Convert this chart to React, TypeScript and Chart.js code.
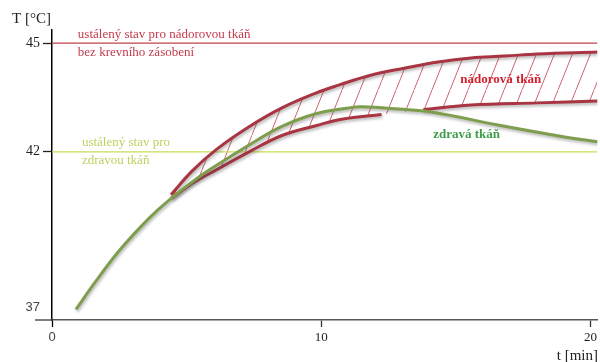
import React, { useEffect, useRef } from 'react';
import { Chart, registerables, LinearScale } from 'chart.js';

Chart.register(...registerables);

// ---- data ----
const timeHealthy = [0.89, 1.59, 2.51, 3.62, 4.36, 5.47, 6.47, 7.32, 8.54, 9.8, 11.02, 11.5, 12.87, 14.09, 16.56, 19.04, 20.26];
const tempHealthy = [36.94, 37.8, 38.84, 39.88, 40.46, 41.2, 41.76, 42.19, 42.7, 43.05, 43.21, 43.24, 43.18, 43.1, 42.74, 42.41, 42.28];

const timeTumorUpper = [4.42, 5.2, 6.1, 7.32, 8.54, 9.8, 10.65, 11.87, 13.12, 14.34, 15.56, 16.82, 18.04, 20.26];
const tempTumorUpper = [40.62, 41.38, 42.06, 42.69, 43.21, 43.62, 43.84, 44.12, 44.31, 44.48, 44.59, 44.64, 44.7, 44.75];

const timeTumorLower = [4.42, 5.2, 6.1, 7.32, 8.54, 9.8, 10.76, 12.24, 13.79, 15.56, 18.04, 20.26];
const tempTumorLower = [40.5, 40.98, 41.42, 42.0, 42.45, 42.72, 42.9, 43.03, 43.16, 43.29, 43.35, 43.4];
const tumorLowerHiddenSegment = 7; // segment starting at this index is not drawn

const steadyTumor = 45;
const steadyHealthy = 42;

const xTicks = [0, 10, 20];
const yTicks = [37, 42, 45];
const xMin = 0;
const xMax = 20.26;
const yMin = 36.6;
const yMax = 45.36;

const axisTitleY = 'T [°C]';
const axisTitleX = 't [min]';

const notes = [
  { text: 'ustálený stav pro nádorovou tkáň', t: 0.96, v: 45.22, color: '#c23a4c', bold: false },
  { text: 'bez krevního zásobení', t: 0.96, v: 44.75, color: '#c23a4c', bold: false },
  { text: 'ustálený stav pro', t: 1.11, v: 42.25, color: '#b9d35e', bold: false },
  { text: 'zdravou tkáň', t: 1.11, v: 41.71, color: '#b9d35e', bold: false },
  { text: 'nádorová tkáň', t: 15.16, v: 43.98, color: '#d0202e', bold: true },
  { text: 'zdravá tkáň', t: 14.16, v: 42.47, color: '#3e9c4a', bold: true },
];

// ---- warped linear scale: the 37–42 band is drawn slightly compressed ----
const WARP_AT = 42;
const WARP_FACTOR = 0.859;
const warp = (v: number) => (v >= WARP_AT ? v : WARP_AT - (WARP_AT - v) * WARP_FACTOR);
const unwarp = (u: number) => (u >= WARP_AT ? u : WARP_AT - (WARP_AT - u) / WARP_FACTOR);

class WarpedScale extends LinearScale {
  static id = 'warped';
  static defaults = LinearScale.defaults;
  getPixelForValue(value: number) {
    const a = warp(this.min);
    const b = warp(this.max);
    return this.getPixelForDecimal((warp(value) - a) / (b - a));
  }
  getValueForPixel(pixel: number) {
    const a = warp(this.min);
    const b = warp(this.max);
    return unwarp(a + this.getDecimalForPixel(pixel) * (b - a));
  }
}
Chart.register(WarpedScale as any);

const SERIF = '"Liberation Serif", "DejaVu Serif", serif';
const SANS = '"Liberation Sans", Arial, sans-serif';

const RED = '#a83541';
const GREEN = '#7e9e4e';

export default function App() {
  const ref = useRef<HTMLCanvasElement | null>(null);

  useEffect(() => {
    const canvas = ref.current;
    if (!canvas) return;

    const pc = document.createElement('canvas');
    pc.width = 18;
    pc.height = 45;
    const p = pc.getContext('2d')!;
    p.strokeStyle = 'rgba(192,64,80,0.9)';
    p.lineWidth = 0.9;
    p.beginPath();
    p.moveTo(-18, 90);
    p.lineTo(36, -45);
    p.stroke();
    const hatch = p.createPattern(pc, 'repeat')!;

    const toXY = (xs: number[], ys: number[]) => xs.map((x, i) => ({ x, y: ys[i] }));

    const decorPlugin = {
      id: 'decor',
      beforeDatasetDraw(chart: any, args: any) {
        if (args.index <= 2) {
          const c = chart.ctx;
          c.save();
          c.shadowColor = 'rgba(70,70,70,0.4)';
          c.shadowBlur = 3;
          c.shadowOffsetX = 1;
          c.shadowOffsetY = 2;
        }
      },
      afterDatasetDraw(chart: any, args: any) {
        if (args.index <= 2) chart.ctx.restore();
      },
      afterDraw(chart: any) {
        const c = chart.ctx;
        const xs = chart.scales.x;
        const ys = chart.scales.y;
        const area = chart.chartArea;
        c.save();
        c.strokeStyle = '#555';
        c.lineWidth = 1.5;
        c.beginPath();
        c.moveTo(area.left - 17, area.bottom);
        c.lineTo(area.left, area.bottom);
        c.stroke();
        c.textBaseline = 'middle';
        c.textAlign = 'left';
        for (const n of notes) {
          c.font = `${n.bold ? 'bold ' : ''}13px ${SERIF}`;
          c.fillStyle = n.color;
          c.fillText(n.text, xs.getPixelForValue(n.t), ys.getPixelForValue(n.v));
        }
        c.fillStyle = '#222';
        c.font = `15px ${SERIF}`;
        c.fillText(axisTitleY, 12, 19);
        c.textAlign = 'right';
        c.fillText(axisTitleX, 598, 356);
        c.restore();
      },
    };

    const curve = { borderWidth: 3, tension: 0.4, pointRadius: 0 };

    const chart = new Chart(canvas, {
      type: 'line',
      data: {
        datasets: [
          {
            label: 'zdravá tkáň',
            data: toXY(timeHealthy, tempHealthy),
            borderColor: GREEN,
            ...curve,
            fill: false,
          },
          {
            label: 'nádorová tkáň (horní)',
            data: toXY(timeTumorUpper, tempTumorUpper),
            borderColor: RED,
            ...curve,
            fill: { target: 2 },
            backgroundColor: hatch,
          },
          {
            label: 'nádorová tkáň (dolní)',
            data: toXY(timeTumorLower, tempTumorLower),
            borderColor: RED,
            ...curve,
            fill: false,
            segment: {
              borderColor: (ctx: any) => (ctx.p0DataIndex === tumorLowerHiddenSegment ? 'rgba(0,0,0,0)' : RED),
            },
          },
          {
            label: 'ustálený stav – nádor',
            data: [{ x: xMin, y: steadyTumor }, { x: xMax, y: steadyTumor }],
            borderColor: '#c0404f',
            borderWidth: 1.2,
            pointRadius: 0,
            fill: false,
          },
          {
            label: 'ustálený stav – zdravá',
            data: [{ x: xMin, y: steadyHealthy }, { x: xMax, y: steadyHealthy }],
            borderColor: '#c8dd55',
            borderWidth: 1.2,
            pointRadius: 0,
            fill: false,
          },
        ],
      } as any,
      options: {
        animation: false,
        responsive: false,
        maintainAspectRatio: false,
        layout: { padding: { top: 30, right: 0, left: 0, bottom: 0 } },
        plugins: {
          legend: { display: false },
          tooltip: { enabled: false },
          filler: { drawTime: 'beforeDatasetsDraw' },
        } as any,
        scales: {
          x: {
            type: 'linear',
            min: xMin,
            max: xMax,
            afterBuildTicks: (s: any) => {
              s.ticks = xTicks.map((v) => ({ value: v }));
            },
            afterFit: (s: any) => {
              s.height = 42;
            },
            border: { display: true, color: '#555', width: 1.5 },
            grid: {
              display: true,
              drawOnChartArea: false,
              drawTicks: true,
              tickLength: 7,
              tickColor: (ctx: any) => (ctx.tick && ctx.tick.value === 0 ? '#000' : '#333'),
              tickWidth: 1.3,
            },
            ticks: {
              autoSkip: false,
              maxRotation: 0,
              padding: 3,
              color: (ctx: any) => (ctx.tick && ctx.tick.value === 0 ? '#444' : '#222'),
              font: (ctx: any) =>
                ctx.tick && ctx.tick.value === 0 ? { family: SANS, size: 13 } : { family: SERIF, size: 13 },
            },
          },
          y: {
            type: 'warped' as any,
            min: yMin,
            max: yMax,
            afterBuildTicks: (s: any) => {
              s.ticks = yTicks.map((v) => ({ value: v }));
            },
            afterFit: (s: any) => {
              s.width = 52;
            },
            border: { display: true, color: '#000', width: 1.5 },
            grid: {
              display: true,
              drawOnChartArea: false,
              drawTicks: true,
              tickLength: 9,
              tickColor: (ctx: any) => (ctx.tick && ctx.tick.value === 37 ? 'rgba(0,0,0,0)' : '#222'),
              tickWidth: 1.3,
            },
            ticks: {
              autoSkip: false,
              padding: 3,
              color: (ctx: any) => (ctx.tick && ctx.tick.value === 37 ? '#444' : '#222'),
              font: (ctx: any) =>
                ctx.tick && ctx.tick.value === 37 ? { family: SANS, size: 13 } : { family: SERIF, size: 14 },
            },
          },
        },
      } as any,
      plugins: [decorPlugin],
    });

    return () => chart.destroy();
  }, []);

  return (
    <div style={{ position: 'absolute', left: 0, top: 0, width: 600, height: 362, background: '#fff' }}>
      <canvas ref={ref} width={600} height={362} style={{ display: 'block' }} />
    </div>
  );
}
